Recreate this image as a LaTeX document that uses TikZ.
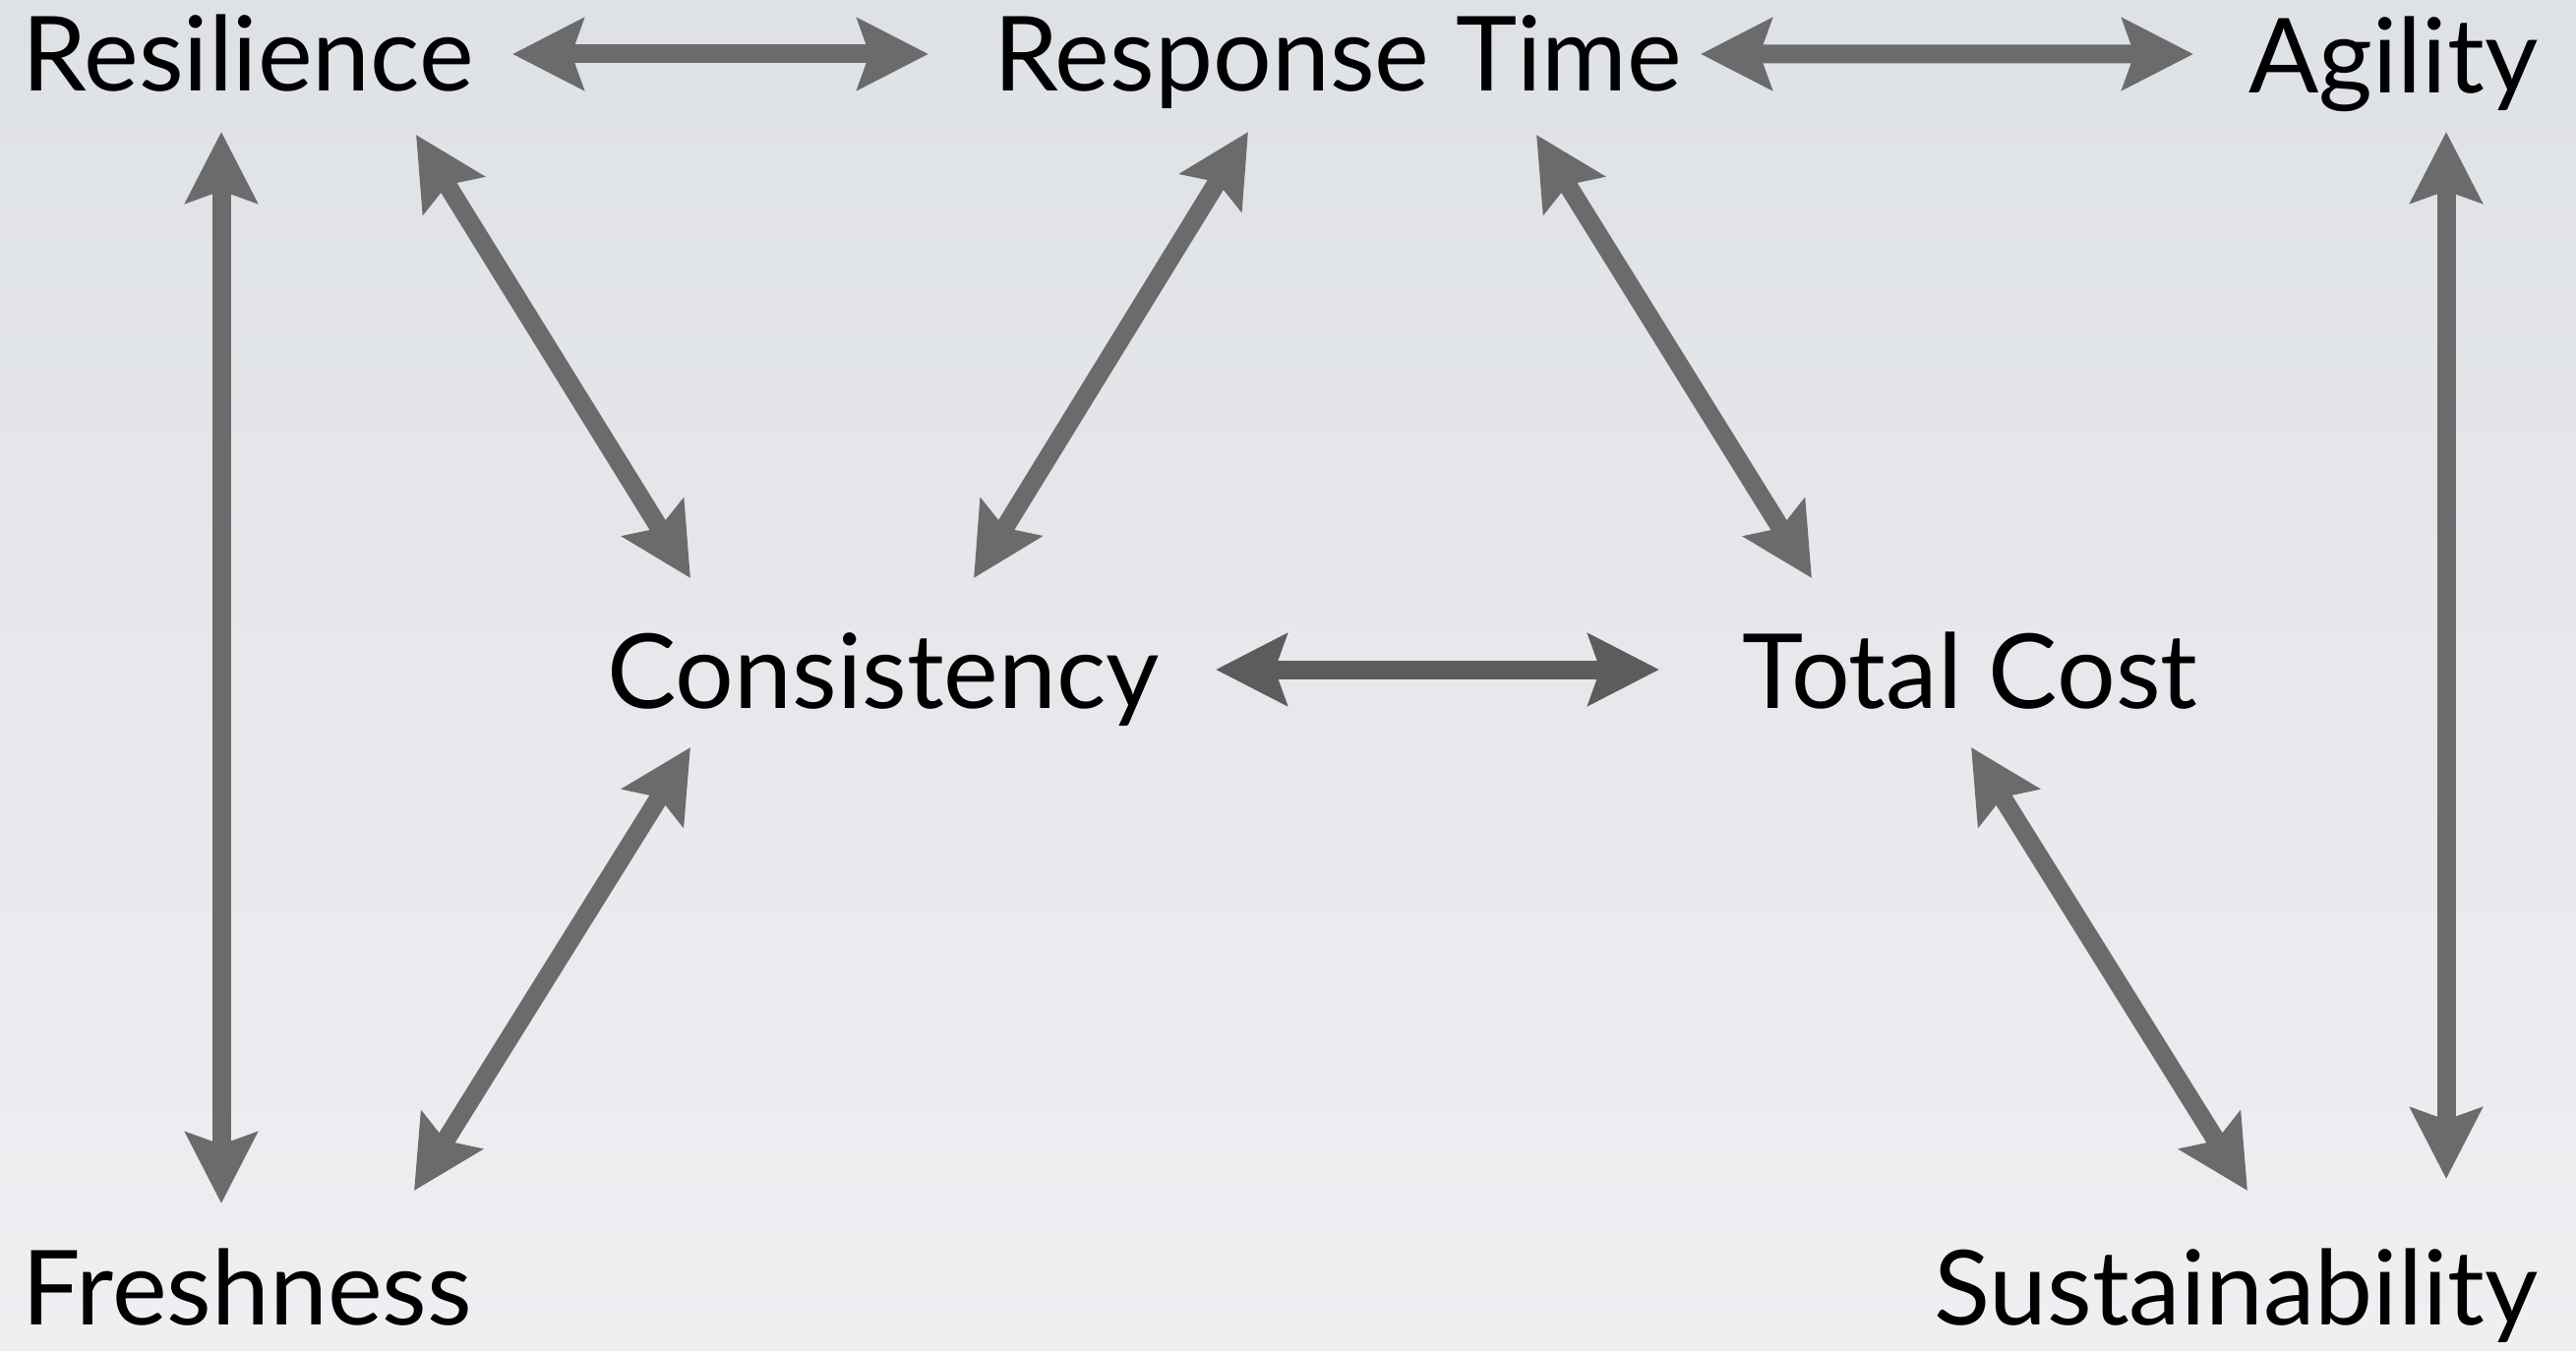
\documentclass[tikz,border=0pt]{standalone}
\usepackage{fontspec}
\setmainfont{Lato}
\usetikzlibrary{arrows.meta}

\definecolor{bgtop}{HTML}{DEE1E6}
\definecolor{bgbottom}{HTML}{EFEFF2}
\definecolor{arrowgray}{HTML}{6B6B6B}
\definecolor{arrowdark}{HTML}{5C5C5C}

\tikzstyle{term} = [inner sep=0pt, font=\fontsize{30}{36}\selectfont]
\tikzstyle{link} = [{Stealth[length=0.72cm, width=0.72cm, inset=0.12cm]}-{Stealth[length=0.72cm, width=0.72cm, inset=0.12cm]},
                    line width=0.19cm, arrowgray]

\begin{document}
\begin{tikzpicture}
    \shade [top color=bgtop, bottom color=bgbottom] (0,0) rectangle (26.19,13.73);
    \useasboundingbox (0,0) rectangle (26.19,13.73);

    \node [term, anchor=base west] (res) at (0.22,12.80) {Resilience};
    \node [term, anchor=base] (rt) at (13.60,12.80) {Response Time};
    \node [term, anchor=base east] (agi) at (25.81,12.78) {Agility};
    \node [term, anchor=base] (con) at (8.98,6.53) {Consistency};
    \node [term, anchor=base] (tc) at (20.03,6.53) {Total Cost};
    \node [term, anchor=base west] (fre) at (0.22,0.26) {Freshness};
    \node [term, anchor=base east] (sus) at (25.81,0.26) {Sustainability};

    \draw [link] ([shift={(4.99,0.38)}]res.base west) -- ([shift={(-4.16,0.38)}]rt.base);
    \draw [link] ([shift={(3.69,0.38)}]rt.base) -- ([shift={(-3.51,0.40)}]agi.base east);
    \draw [link] ([shift={(2.03,-0.41)}]res.base west) -- ([shift={(2.03,1.23)}]fre.base west);
    \draw [link] ([shift={(4.01,-0.44)}]res.base west) -- ([shift={(-1.96,1.32)}]con.base);
    \draw [link] ([shift={(-0.91,-0.41)}]rt.base) -- ([shift={(0.92,1.32)}]con.base);
    \draw [link] ([shift={(2.02,-0.44)}]rt.base) -- ([shift={(-1.61,1.32)}]tc.base);
    \draw [link, arrowdark] ([shift={(3.38,0.39)}]con.base) -- ([shift={(-3.16,0.39)}]tc.base);
    \draw [link] ([shift={(-1.96,-0.40)}]con.base) -- ([shift={(3.99,1.36)}]fre.base west);
    \draw [link] ([shift={(0.01,-0.40)}]tc.base) -- ([shift={(-2.96,1.36)}]sus.base east);
    \draw [link] ([shift={(-0.94,-0.39)}]agi.base east) -- ([shift={(-0.94,1.48)}]sus.base east);
\end{tikzpicture}
\end{document}
